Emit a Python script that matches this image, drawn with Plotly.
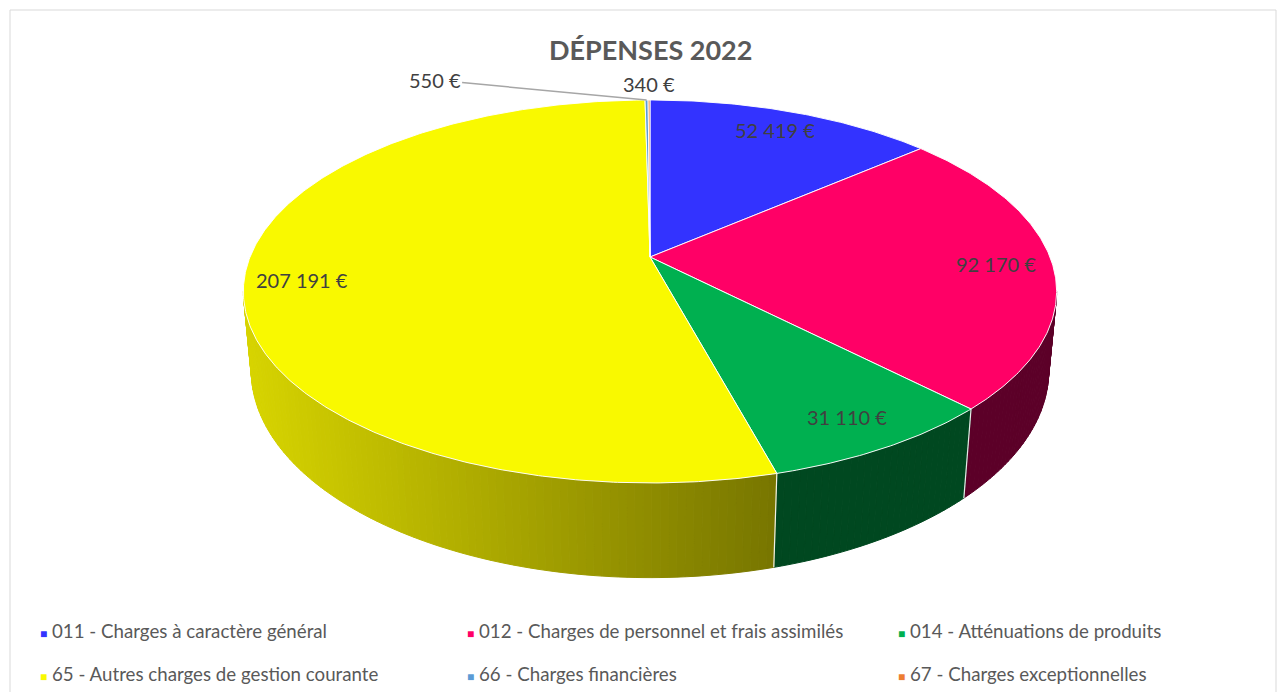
import math
import plotly.graph_objects as go

# ---------------- data ----------------
categories = [
    "011 - Charges à caractère général",
    "012 - Charges de personnel et frais assimilés",
    "014 - Atténuations de produits",
    "65 - Autres charges de gestion courante",
    "66 - Charges financières",
    "67 - Charges exceptionnelles",
]
values = [52419, 92170, 31110, 207191, 550, 340]
value_labels = ["52 419 €", "92 170 €", "31 110 €", "207 191 €", "550 €", "340 €"]
title_text = "DÉPENSES 2022"

# ---------------- styles ----------------
top_colors = ["#3333FF", "#FF0066", "#00B050", "#F9F900", "#5B9BD5", "#ED7D31"]
legend_colors = ["#3333FF", "#FF0066", "#00B050", "#F9F900", "#5B9BD5", "#ED7D31"]
W, Hh = 1284, 692
FONT = "Lato, Open Sans, sans-serif"

# projection (pixel space, 3D pie look)
CX, CY = 650.0, 257.0
A, B, P = 400.0, 185.3, 0.18
THICK = 77.6
VY = 4400.0


def proj(theta_deg, r=1.0, bottom=False):
    th = math.radians(theta_deg)
    X = r * math.sin(th)
    Z = r * math.cos(th)
    w = 1 + P * Z
    xt = CX + A * X / w
    yt = CY - B * Z / w
    if not bottom:
        return xt, yt
    dy = THICK / w
    yb = yt + dy
    xb = CX + (xt - CX) * (1 - dy / (VY - yt))
    return xb, yb


total = float(sum(values))
starts, ends = [], []
acc = 0.0
for v in values:
    starts.append(acc / total * 360.0)
    acc += v
    ends.append(acc / total * 360.0)

# silhouette range for visible walls
sil = math.degrees(math.acos(-P))  # ~100.4
vis_lo, vis_hi = sil, 360 - sil


def wall_color(i, xm):
    if i == 3:  # yellow gradient by horizontal position
        c = 212 - (xm - 262) * 0.18
        c = max(100, min(225, c))
        return "rgb(%d,%d,0)" % (round(c), round(c * 0.985))
    if i == 1:
        return "rgb(92,0,40)"
    if i == 2:
        return "rgb(0,72,32)"
    if i == 0:
        return "rgb(20,20,110)"
    return "rgb(120,120,120)"


fig = go.Figure()

# ---- side walls ----
for i in range(len(values)):
    a = max(starts[i], vis_lo)
    b = min(ends[i], vis_hi)
    if b <= a:
        continue
    n = max(1, int(math.ceil((b - a) / 1.0)))
    for k in range(n):
        t1 = a + (b - a) * k / n
        t2 = a + (b - a) * (k + 1) / n
        ts = [t1, (t1 + t2) / 2, t2]
        top = [proj(t) for t in ts]
        bot = [proj(t, bottom=True) for t in reversed(ts)]
        pts = top + bot + [top[0]]
        xm = sum(p[0] for p in top) / 3
        col = wall_color(i, xm)
        fig.add_trace(go.Scatter(
            x=[p[0] for p in pts], y=[p[1] for p in pts],
            mode="lines", fill="toself", fillcolor=col,
            line=dict(color=col, width=1), hoverinfo="skip", showlegend=False))

# white edges between wall segments of different slices
for i in range(len(values)):
    t = ends[i]
    if vis_lo < t < vis_hi:
        p1 = proj(t)
        p2 = proj(t, bottom=True)
        fig.add_trace(go.Scatter(x=[p1[0], p2[0]], y=[p1[1], p2[1]], mode="lines",
                                 line=dict(color="rgba(255,255,255,0.9)", width=1.2),
                                 hoverinfo="skip", showlegend=False))

# ---- top faces ----
for i in range(len(values)):
    a, b = starts[i], ends[i]
    n = max(2, int(math.ceil((b - a) / 0.5)) + 1)
    arc = [proj(a + (b - a) * k / (n - 1)) for k in range(n)]
    pts = [(CX, CY)] + arc + [(CX, CY)]
    fig.add_trace(go.Scatter(
        x=[p[0] for p in pts], y=[p[1] for p in pts], mode="lines",
        fill="toself", fillcolor=top_colors[i],
        line=dict(color="rgba(255,255,255,0.95)", width=1),
        name=categories[i], hovertemplate="%{fullData.name}<extra></extra>",
        showlegend=False))

# ---- data labels ----
lab_font = dict(family=FONT, size=20, color="#404040")
for i in range(4):
    mid = (starts[i] + ends[i]) / 2
    lx, ly = proj(mid, 0.86)
    fig.add_annotation(x=lx, y=ly, text=value_labels[i], showarrow=False,
                       font=lab_font, xanchor="center", yanchor="middle")

# small slices: outside labels
mid66 = (starts[4] + ends[4]) / 2
px66, py66 = proj(mid66)
fig.add_annotation(x=px66, y=py66, ax=-212, ay=-20, text=value_labels[4],
                   showarrow=True, arrowhead=0, arrowwidth=1.5, arrowcolor="#A6A6A6",
                   font=lab_font, standoff=0)
mid67 = (starts[5] + ends[5]) / 2
px67, py67 = proj(mid67)
fig.add_annotation(x=px67, y=py67, yshift=16, text=value_labels[5], showarrow=False,
                   font=lab_font, xanchor="center", yanchor="middle")

# ---- title ----
fig.add_annotation(x=650, y=49, text="<b>" + title_text + "</b>", showarrow=False,
                   font=dict(family=FONT, size=27, color="#595959"),
                   xanchor="center", yanchor="middle")

# ---- legend (custom, 3 columns x 2 rows) ----
col_x = [38, 465, 896]
row_y = [631, 674]
leg_font = dict(family=FONT, size=18.7, color="#595959")
for i, name in enumerate(categories):
    r, c = divmod(i, 3)
    txt = "<span style='color:%s;font-size:12px'>■</span> %s" % (legend_colors[i], name)
    fig.add_annotation(x=col_x[c], y=row_y[r], text=txt, showarrow=False,
                       font=leg_font, xanchor="left", yanchor="middle")

# ---- chart frame ----
fig.add_shape(type="rect", x0=10, y0=10, x1=1276, y1=720, xref="x", yref="y",
              line=dict(color="#D9D9D9", width=1), fillcolor="rgba(0,0,0,0)", layer="below")

fig.update_layout(
    width=W, height=Hh, autosize=False,
    margin=dict(l=0, r=0, t=0, b=0),
    paper_bgcolor="white", plot_bgcolor="white",
    xaxis=dict(range=[0, W], visible=False, fixedrange=True),
    yaxis=dict(range=[Hh, 0], visible=False, fixedrange=True),
    showlegend=False,
)

fig.write_html("out.html", config={"displayModeBar": False},
               post_script="document.body.style.margin='0';document.body.style.overflow='hidden';")
